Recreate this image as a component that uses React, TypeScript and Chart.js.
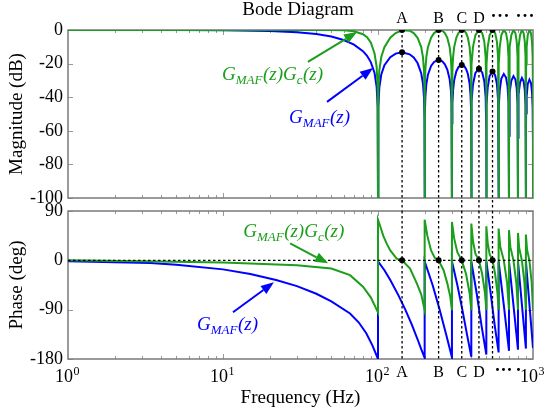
import React, { useEffect, useRef } from 'react';
import { Chart, registerables } from 'chart.js';
Chart.register(...registerables);

const FONT = '"Liberation Serif", "Times New Roman", serif';
const BLUE = '#0000ff';
const GREEN = '#1b9e1b';
const FRAME = '#7a7a7a';

// layout (pixels)
const W = 546, H = 412;
const PLOT_LEFT = 68, PLOT_RIGHT = 533;
const MAG_TOP = 30, MAG_BOTTOM = 198;
const PH_TOP = 211, PH_BOTTOM = 359;

// ---------- data ----------
const freqTicks = [1, 10, 100, 1000];
const magTicks = [-100, -80, -60, -40, -20, 0];
const phaseTicks = [-180, -90, 0, 90];
const markerLabels = ['A', 'B', 'C', 'D'];
const markerFreq = [143, 246, 347, 448, 548];
const markerBlueMag = [-13.3, -17.8, -20.8, -23.0, -24.7];
const markerGreenMag = [0, 0, 0, 0, 0];
const markerPhase = [0, 0, 0, 0, 0];

const magFreq = [
  1, 2, 5, 10, 20, 30, 40, 50, 60, 70, 80, 85, 90, 95, 98, 99.5, 100,
  100.5, 102, 105, 110, 120, 130, 143, 160, 170, 180, 190, 195, 198, 199.5, 200,
  200.5, 202, 205, 210, 220, 230, 246, 260, 270, 280, 290, 295, 298, 299.5, 300,
  300.5, 302, 305, 310, 320, 330, 347, 360, 370, 380, 390, 395, 398, 399.5, 400,
  400.5, 403, 410, 425, 448, 470, 485, 495, 499.5, 500,
  500.5, 503, 510, 525, 548, 570, 585, 595, 599.5, 600,
  600.5, 603, 610, 625, 648, 670, 685, 695, 699.5, 700,
  700.5, 703, 710, 725, 748, 770, 785, 795, 799.5, 800,
  800.5, 803, 810, 825, 848, 870, 885, 895, 899.5, 900,
  900.5, 903, 910, 925, 948, 970, 985, 995, 999.5, 1000,
];
const magBlue = [
  0, -0.01, -0.04, -0.14, -0.58, -1.33, -2.42, -3.92, -5.94, -8.69, -12.62, -15.39, -19.23, -25.6, -33.8, -45.98, -100,
  -46.07, -34.16, -26.48, -20.97, -16.15, -14.06, -13.26, -14.47, -16.39, -19.67, -25.72, -31.85, -39.92, -52.02, -100,
  -52.07, -40.09, -32.29, -26.59, -21.41, -19.02, -17.83, -18.68, -20.41, -23.51, -29.39, -35.45, -43.47, -55.55, -100,
  -55.58, -43.58, -35.74, -29.97, -24.67, -22.15, -20.79, -21.51, -23.15, -26.16, -31.96, -37.99, -45.98, -58.08, -100,
  -58.08, -42.58, -32.4, -25.52, -22.99, -25.23, -30.52, -39.95, -59.99, -100,
  -60.01, -44.5, -34.29, -27.36, -24.74, -26.9, -32.15, -41.54, -61.58, -100,
  -61.59, -46.08, -35.85, -28.87, -26.2, -28.3, -33.52, -42.89, -62.92, -100,
  -62.93, -47.41, -37.17, -30.16, -27.44, -29.51, -34.7, -44.06, -64.08, -100,
  -64.09, -48.57, -38.31, -31.28, -28.53, -30.57, -35.74, -45.09, -65.1, -100,
  -65.11, -49.59, -39.32, -32.28, -29.5, -31.52, -36.67, -46.01, -66.02, -100,
];
const magGreen = [
  0, 0, 0, 0, 0, 0, 0, 0, -0.2, -0.8, -2.5, -4.3, -7.5, -14, -22, -34, -100,
  -36.08, -24.04, -16.11, -10.2, -4.62, -1.84, -0.21, -0.44, -1.84, -4.62, -10.2, -16.11, -24.04, -36.08, -100,
  -36.08, -24.04, -16.11, -10.2, -4.62, -1.84, -0.07, -0.44, -1.84, -4.62, -10.2, -16.11, -24.04, -36.08, -100,
  -36.08, -24.04, -16.11, -10.2, -4.62, -1.84, -0.04, -0.44, -1.84, -4.62, -10.2, -16.11, -24.04, -36.08, -100,
  -36.08, -20.53, -10.2, -3.01, -0.02, -1.84, -6.86, -16.11, -36.08, -100,
  -36.08, -20.53, -10.2, -3.01, -0.02, -1.84, -6.86, -16.11, -36.08, -100,
  -36.08, -20.53, -10.2, -3.01, -0.02, -1.84, -6.86, -16.11, -36.08, -100,
  -36.08, -20.53, -10.2, -3.01, -0.02, -1.84, -6.86, -16.11, -36.08, -100,
  -36.08, -20.53, -10.2, -3.01, -0.02, -1.84, -6.86, -16.11, -36.08, -100,
  -36.08, -20.53, -10.2, -3.01, -0.02, -1.84, -6.86, -16.11, -36.08, -100,
];

const phaseBlueFreq = [
  1, 2, 3.4, 5, 10, 15, 22, 30, 40, 50, 66, 75, 84, 92, 100,
  100, 110, 120, 135, 150, 165, 180, 190, 200,
  200, 225, 250, 275, 300,
  300, 325, 350, 375, 400,
  400, 433, 466, 500,
  500, 533, 566, 600,
  600, 650, 700,
  700, 750, 800,
  800, 850, 900,
  900, 950, 1000,
];
const phaseBlue = [
  -1.8, -3.5, -5, -8, -16.5, -25, -36, -47, -61, -75, -97, -113, -133, -155, -180,
  -2, -18, -36, -63, -90, -117, -144, -162, -178,
  -2, -45, -90, -135, -177,
  -2, -45, -90, -135, -176,
  -2, -60, -120, -172,
  -2, -60, -118, -168,
  -2, -85, -165,
  -2, -85, -163,
  -2, -84, -161,
  -2, -83, -160,
];
const phaseGreenFreq = [
  1, 3, 10, 15, 30, 50, 66, 80, 90, 100,
  100, 104, 108, 114, 120, 132, 143, 161, 178, 190, 200,
  200, 208, 220, 232, 246, 265, 280, 292, 300,
  300, 310, 325, 347, 370, 390, 400,
  400, 410, 425, 448, 470, 490, 500,
  500, 510, 525, 548, 570, 590, 600,
  600, 615, 648, 680, 700,
  700, 715, 748, 780, 800,
  800, 815, 848, 880, 900,
  900, 915, 948, 980, 1000,
];
const phaseGreen = [
  0, -1.5, -4, -6, -9, -15, -27, -48, -68, -95,
  74, 60, 45, 30, 18, 3, 0, -15, -42, -62, -91,
  74, 45, 18, 5, 0, -18, -42, -65, -91,
  70, 40, 15, 0, -25, -60, -91,
  67, 35, 12, 0, -25, -60, -91,
  62, 32, 11, 0, -25, -60, -90,
  58, 25, 0, -40, -90,
  55, 24, 0, -40, -90,
  50, 22, 0, -40, -90,
  47, 20, 0, -40, -90,
];

// annotation anchors in data coordinates [freq, value]
const magGreenText = [9.86, -29.7];
const magGreenArrow = [[35.3, -19], [73.2, -1.2]];
const magBlueText = [26.7, -55.3];
const magBlueArrow = [[46.9, -42.8], [92.9, -22.6]];
const phGreenText = [13.5, 42.8];
const phGreenArrow = [[27.1, 31], [47.6, -5.5]];
const phBlueText = [6.8, -127.4];
const phBlueArrow = [[11.6, -94.6], [21.3, -40]];

const LBL_GG: [string, boolean][] = [['G', false], ['MAF', true], ['(z)', false], ['G', false], ['c', true], ['(z)', false]];
const LBL_G: [string, boolean][] = [['G', false], ['MAF', true], ['(z)', false]];

const pts = (xs: number[], ys: number[]) => xs.map((x, i) => ({ x, y: ys[i] }));

// ---------- drawing helpers ----------
function line(ctx: CanvasRenderingContext2D, x1: number, y1: number, x2: number, y2: number) {
  ctx.beginPath(); ctx.moveTo(x1, y1); ctx.lineTo(x2, y2); ctx.stroke();
}

function drawFrame(chart: any, yTicks: number[]) {
  const { ctx, chartArea: a, scales } = chart;
  const xs = scales.x, ys = scales.y;
  ctx.save();
  ctx.strokeStyle = '#9a9a9a';
  ctx.lineWidth = 1;
  for (let d = 1; d < 1000; d *= 10) {
    for (let m = 1; m <= 9; m++) {
      const f = d * m;
      if (f <= 1 || f >= 1000) continue;
      const px = Math.round(xs.getPixelForValue(f)) + 0.5;
      const len = m === 1 ? 5 : 3;
      line(ctx, px, a.bottom, px, a.bottom - len);
      line(ctx, px, a.top, px, a.top + len);
    }
  }
  for (const v of yTicks) {
    const py = Math.round(ys.getPixelForValue(v)) + 0.5;
    line(ctx, a.left, py, a.left + 5, py);
    line(ctx, a.right, py, a.right - 5, py);
  }
  ctx.strokeStyle = FRAME;
  ctx.lineWidth = 1.5;
  ctx.strokeRect(a.left, a.top, a.right - a.left, a.bottom - a.top);
  ctx.restore();
}

function drawArrow(chart: any, seg: number[][], color: string) {
  const { ctx, scales } = chart;
  const x1 = scales.x.getPixelForValue(seg[0][0]);
  const y1 = scales.y.getPixelForValue(seg[0][1]);
  const x2 = scales.x.getPixelForValue(seg[1][0]);
  const y2 = scales.y.getPixelForValue(seg[1][1]);
  const ang = Math.atan2(y2 - y1, x2 - x1);
  const L = 13, Wd = 5;
  const bx = x2 - L * Math.cos(ang), by = y2 - L * Math.sin(ang);
  ctx.save();
  ctx.strokeStyle = color; ctx.fillStyle = color; ctx.lineWidth = 2;
  line(ctx, x1, y1, bx, by);
  ctx.beginPath();
  ctx.moveTo(x2, y2);
  ctx.lineTo(bx + Wd * Math.sin(ang), by - Wd * Math.cos(ang));
  ctx.lineTo(bx - Wd * Math.sin(ang), by + Wd * Math.cos(ang));
  ctx.closePath(); ctx.fill();
  ctx.restore();
}

function drawRich(chart: any, pos: number[], parts: [string, boolean][], color: string) {
  const { ctx, scales } = chart;
  const x = scales.x.getPixelForValue(pos[0]);
  const y = scales.y.getPixelForValue(pos[1]);
  ctx.save();
  ctx.fillStyle = color; ctx.textAlign = 'left'; ctx.textBaseline = 'alphabetic';
  let cx = x;
  for (const [t, sub] of parts) {
    ctx.font = sub ? `italic 13px ${FONT}` : `italic 19px ${FONT}`;
    ctx.fillText(t, cx, sub ? y + 4 : y);
    cx += ctx.measureText(t).width + (sub ? 0.5 : 0);
  }
  ctx.restore();
}

function drawDots(ctx: CanvasRenderingContext2D, xs: number[], y: number) {
  ctx.save();
  ctx.fillStyle = '#000';
  ctx.font = `bold 18px ${FONT}`;
  ctx.textAlign = 'center'; ctx.textBaseline = 'middle';
  for (const x of xs) ctx.fillText('\u00B7', x, y);
  ctx.restore();
}

function vDashes(chart: any, yTop: number, yBot: number) {
  const { ctx, scales } = chart;
  ctx.save();
  ctx.strokeStyle = '#000'; ctx.lineWidth = 1.3; ctx.setLineDash([2.5, 2.5]);
  for (const f of markerFreq) {
    const px = scales.x.getPixelForValue(f);
    line(ctx, px, yTop, px, yBot);
  }
  ctx.restore();
}

const lineDs = (label: string, data: any[], color: string) => ({
  label, data, borderColor: color, backgroundColor: color, borderWidth: 2,
  pointRadius: 0, tension: 0, fill: false,
});
const dotDs = (label: string, data: any[]) => ({
  label, data, showLine: false, pointRadius: 3, pointBackgroundColor: '#000',
  pointBorderColor: '#000', pointBorderWidth: 0, borderColor: '#000',
});

export default function App() {
  const topRef = useRef<HTMLCanvasElement>(null);
  const botRef = useRef<HTMLCanvasElement>(null);

  useEffect(() => {
    document.body.style.margin = '0';
    Chart.defaults.font.family = FONT;

    const topPlugin = {
      id: 'topDeco',
      beforeDatasetsDraw(chart: any) {
        drawFrame(chart, magTicks);
        vDashes(chart, chart.chartArea.top, PH_TOP);
      },
      afterDraw(chart: any) {
        const { ctx, scales } = chart;
        ctx.save();
        ctx.fillStyle = '#000';
        ctx.font = `19px ${FONT}`;
        ctx.textAlign = 'center'; ctx.textBaseline = 'alphabetic';
        ctx.fillText('Bode Diagram', 298, 15);
        ctx.font = `16px ${FONT}`;
        markerLabels.forEach((t, i) => ctx.fillText(t, scales.x.getPixelForValue(markerFreq[i]), 23));
        ctx.restore();
        drawDots(ctx, [493.5, 500, 506.5, 518.5, 525, 531.5], 17);
        drawArrow(chart, magGreenArrow, GREEN);
        drawArrow(chart, magBlueArrow, BLUE);
        drawRich(chart, magGreenText, LBL_GG, GREEN);
        drawRich(chart, magBlueText, LBL_G, BLUE);
      },
    };

    const botPlugin = {
      id: 'botDeco',
      beforeDatasetsDraw(chart: any) {
        drawFrame(chart, phaseTicks);
      },
      afterDatasetsDraw(chart: any) {
        const { ctx, chartArea: a, scales } = chart;
        vDashes(chart, a.top, a.bottom);
        ctx.save();
        ctx.strokeStyle = '#000'; ctx.lineWidth = 1.3; ctx.setLineDash([2.5, 2.5]);
        const y0 = scales.y.getPixelForValue(0);
        line(ctx, a.left, y0, a.right, y0);
        ctx.restore();
      },
      afterDraw(chart: any) {
        const { ctx, scales } = chart;
        ctx.save();
        ctx.fillStyle = '#000';
        ctx.textAlign = 'center'; ctx.textBaseline = 'alphabetic';
        ctx.font = `16px ${FONT}`;
        markerLabels.forEach((t, i) => ctx.fillText(t, scales.x.getPixelForValue(markerFreq[i]), 377));
        ctx.restore();
        drawDots(ctx, [497.5, 503.5, 509.5, 518.5], 371);
        ctx.save();
        ctx.fillStyle = '#000'; ctx.textAlign = 'left'; ctx.textBaseline = 'alphabetic';
        for (const f of freqTicks) {
          const px = scales.x.getPixelForValue(f);
          const e = String(Math.round(Math.log10(f)));
          ctx.font = `18px ${FONT}`;
          const w1 = ctx.measureText('10').width;
          ctx.font = `12px ${FONT}`;
          const w2 = ctx.measureText(e).width;
          const sx = px - (w1 + w2) / 2 - 1;
          ctx.font = `18px ${FONT}`;
          ctx.fillText('10', sx, 382);
          ctx.font = `12px ${FONT}`;
          ctx.fillText(e, sx + w1 + 0.5, 375);
        }
        ctx.restore();
        drawArrow(chart, phGreenArrow, GREEN);
        drawArrow(chart, phBlueArrow, BLUE);
        drawRich(chart, phGreenText, LBL_GG, GREEN);
        drawRich(chart, phBlueText, LBL_G, BLUE);
      },
    };

    const yScale = (min: number, max: number, ticks: number[], title: string) => ({
      type: 'linear', min, max,
      afterBuildTicks: (s: any) => { s.ticks = ticks.map((v) => ({ value: v })); },
      afterFit: (s: any) => { s.width = PLOT_LEFT; },
      grid: { display: false, drawTicks: false },
      border: { display: false },
      ticks: { color: '#000', font: { size: 18, family: FONT }, padding: 5, autoSkip: false },
      title: { display: true, text: title, color: '#000', font: { size: 19, family: FONT }, padding: { top: 6, bottom: 0 } },
    });

    const common = {
      responsive: false, animation: false as const, events: [] as any[],
      plugins: { legend: { display: false }, tooltip: { enabled: false } },
    };

    const c1 = new Chart(topRef.current!, {
      type: 'line',
      data: {
        datasets: [
          dotDs('gdots', pts(markerFreq, markerGreenMag)),
          dotDs('bdots', pts(markerFreq, markerBlueMag)),
          lineDs('GMAF Gc', pts(magFreq, magGreen), GREEN),
          lineDs('GMAF', pts(magFreq, magBlue), BLUE),
        ],
      },
      options: {
        ...common,
        layout: { padding: { left: 0, top: MAG_TOP, right: W - PLOT_RIGHT, bottom: H - MAG_BOTTOM } },
        scales: {
          x: { type: 'logarithmic', min: 1, max: 1000, display: false },
          y: yScale(-100, 0, magTicks, 'Magnitude (dB)'),
        },
      } as any,
      plugins: [topPlugin],
    });

    const c2 = new Chart(botRef.current!, {
      type: 'line',
      data: {
        datasets: [
          dotDs('pdots', pts(markerFreq, markerPhase)),
          lineDs('GMAF Gc', pts(phaseGreenFreq, phaseGreen), GREEN),
          lineDs('GMAF', pts(phaseBlueFreq, phaseBlue), BLUE),
        ],
      },
      options: {
        ...common,
        layout: { padding: { left: 0, top: PH_TOP, right: W - PLOT_RIGHT, bottom: 0 } },
        scales: {
          x: {
            type: 'logarithmic', min: 1, max: 1000,
            afterFit: (s: any) => { s.height = H - PH_BOTTOM; },
            grid: { display: false, drawTicks: false },
            border: { display: false },
            ticks: { display: false },
            title: { display: true, text: 'Frequency (Hz)', color: '#000', font: { size: 19, family: FONT }, padding: { top: 0, bottom: 3 } },
          },
          y: yScale(-180, 90, phaseTicks, 'Phase (deg)'),
        },
      } as any,
      plugins: [botPlugin],
    });

    return () => { c1.destroy(); c2.destroy(); };
  }, []);

  return (
    <div style={{ position: 'relative', width: W, height: H, background: '#fff' }}>
      <canvas ref={topRef} width={W} height={H} style={{ position: 'absolute', left: 0, top: 0 }} />
      <canvas ref={botRef} width={W} height={H} style={{ position: 'absolute', left: 0, top: 0 }} />
    </div>
  );
}
